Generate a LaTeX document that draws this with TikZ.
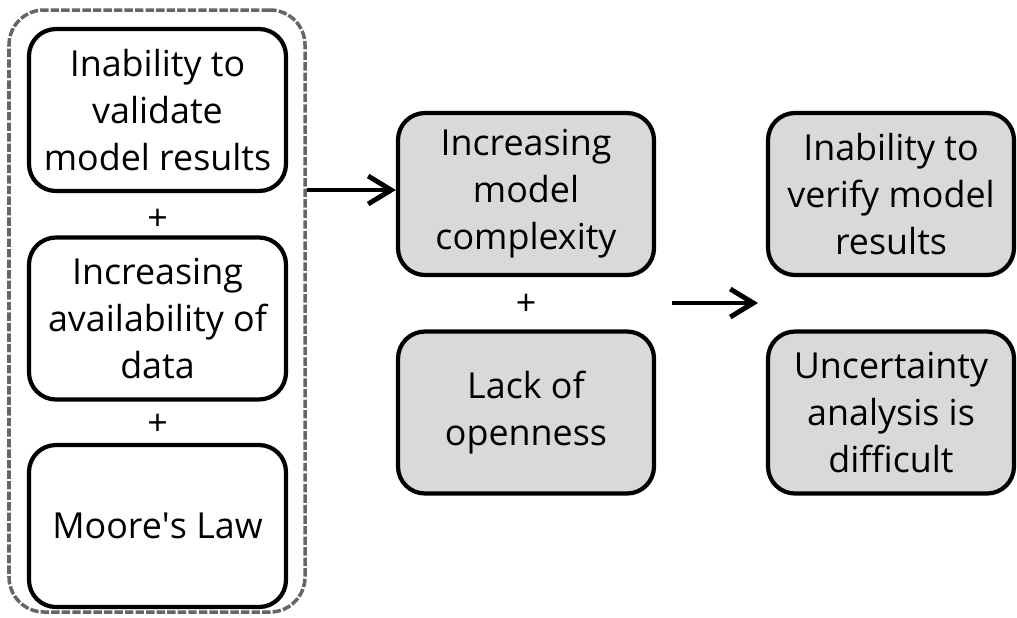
\documentclass[tikz,border=0pt]{standalone}
\usepackage{fontspec}
\setmainfont{Open Sans}
\usetikzlibrary{arrows.meta,fit}
\begin{document}
\begin{tikzpicture}[
    causebox/.style={draw, line width=1.2pt, rounded corners=0.27cm, align=center,
        minimum width=2.57cm, minimum height=1.62cm, inner sep=0pt,
        font=\fontsize{10.2}{13.4}\selectfont},
    effectbox/.style={causebox, fill=gray!30},
    plus/.style={font=\fontsize{10.2}{13.4}\selectfont},
    flow/.style={line width=1.4pt, -{Straight Barb[length=2.3mm, width=2.8mm]}}
]
    \useasboundingbox (0,0) rectangle (10.17,-6.17);
    \node[causebox] (validate) at (1.575,-1.10) {Inability to\\validate\\model results};
    \node[plus] (plusA) at (1.575,-2.20) {+};
    \node[causebox] (data) at (1.575,-3.185) {Increasing\\availability of\\data};
    \node[plus] (plusB) at (1.575,-4.25) {+};
    \node[causebox] (moore) at (1.575,-5.26) {Moore\textquotesingle s Law};
    \node[draw=black!60, line width=1pt, dash pattern=on 2.4pt off 0.6pt,
        rounded corners=0.35cm, inner sep=0pt, fit={(0.09,-0.10) (3.05,-6.12)}] (drivers) {};
    \node[effectbox, minimum width=2.56cm] (complexity) at (5.26,-1.94) {Increasing\\model\\complexity};
    \node[plus] (plusC) at (5.26,-3.05) {+};
    \node[effectbox, minimum width=2.56cm] (openness) at (5.26,-4.125) {Lack of\\openness};
    \node[effectbox, minimum width=2.46cm] (verify) at (8.91,-1.94) {Inability to\\verify model\\results};
    \node[effectbox, minimum width=2.46cm] (uncertainty) at (8.91,-4.125) {Uncertainty\\analysis is\\difficult};
    \coordinate (outStart) at (6.72,-3.03);
    \coordinate (outEnd) at (7.58,-3.03);
    \draw[flow] (drivers.east |- 0,-1.90) -- (complexity.west |- 0,-1.90);
    \draw[flow] (outStart) -- (outEnd);
\end{tikzpicture}
\end{document}
